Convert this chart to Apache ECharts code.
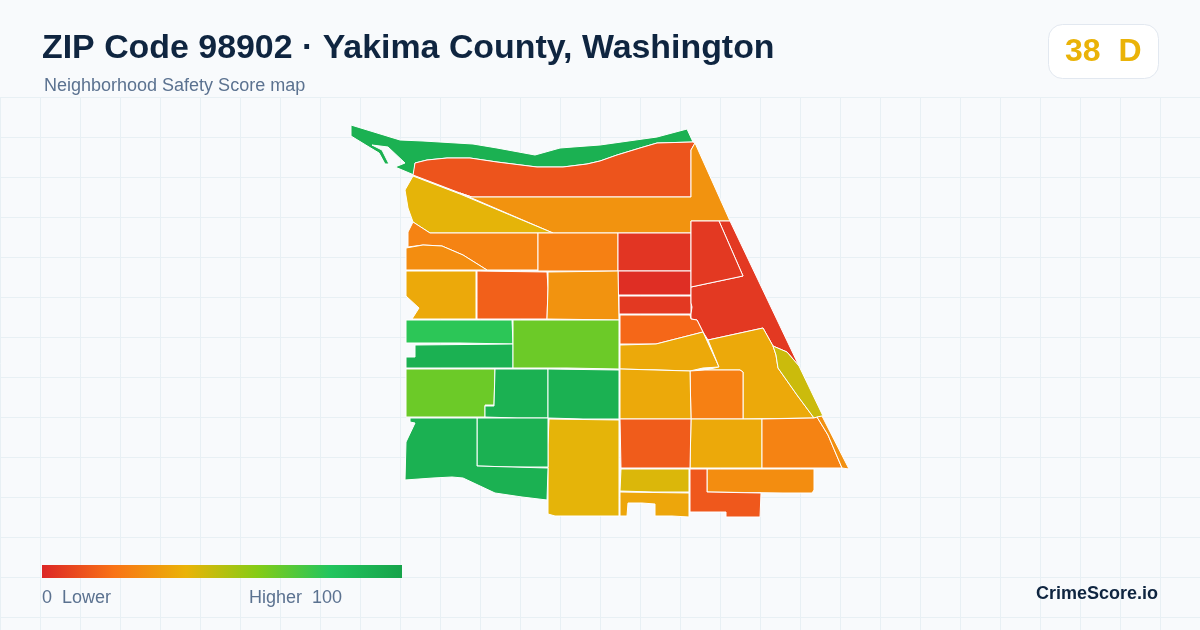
<!DOCTYPE html>
<html>
<head>
<meta charset="utf-8">
<title>ZIP Code 98902</title>
<style>
html,body{margin:0;padding:0;background:#f8fafc;}
#chart{width:1200px;height:630px;}
</style>
<script src="https://cdn.jsdelivr.net/npm/echarts@6/dist/echarts.min.js"></script>
</head>
<body>
<div id="chart"></div>
<script>
var regionNames = [
    'A01', 'A02', 'A03', 'A04', 'A05', 'A06', 'A07', 'A08', 'A09', 'A10',
    'A11', 'A12', 'A13', 'A14', 'A15', 'A16', 'A17', 'A18', 'A19', 'A20',
    'A21', 'A22', 'A23', 'A24', 'A25', 'A26', 'A27', 'A28', 'A29', 'A30',
    'A31', 'A32', 'A33', 'A34', 'A35', 'A36', 'A37', 'A38'
];
// scores
var regionScores = [
    92, 12, 30, 41, 25, 28, 24, 4, 2, 5,
    5, 5, 37, 15, 30, 17, 37, 37, 24, 46,
    78, 92, 65, 65, 92, 92, 37, 37, 14, 25,
    28, 13, 29, 41, 43, 36, 92, 92
];
// outlines in map units
var regionOutlines = [
    [[351,125],[400,140],[423,141],[473,144],[497,148],[535,155],[560,148],[573,147],[600,145],[657,137],[687,129],[693,142],[657,143],[640,148],[617,155],[600,161],[587,164],[563,167],[537,167],[497,162],[470,158],[447,158],[427,160],[415,163],[414,175],[395,167],[405,163],[388,147],[372,145],[382,150],[389,164],[385,164],[379,153],[369,147],[351,136]],
    [[415,163],[427,160],[447,158],[470,158],[497,162],[537,167],[563,167],[587,164],[600,161],[617,155],[640,148],[657,143],[693,142],[695,143],[691,150],[691,197],[472,197],[460,193],[413,175]],
    [[460,193],[472,197],[691,197],[691,150],[695,143],[730,221],[691,221],[691,233],[553,233]],
    [[413,176],[460,194],[553,233],[430,233],[413,222],[408,208],[405,190]],
    [[413,222],[430,233],[538,233],[538,270],[487,270],[463,255],[442,246],[423,245],[408,247],[408,232]],
    [[406,270],[406,248],[423,245],[442,246],[463,255],[487,270]],
    [[538,233],[618,233],[618,271],[538,271]],
    [[618,233],[691,233],[691,271],[618,271]],
    [[618,271],[691,271],[691,295],[618,295]],
    [[619,296],[691,296],[691,314],[619,314]],
    [[691,287],[743,276],[719,221],[730,221],[799,366],[787,352],[773,346],[763,328],[708,340],[703,332],[697,320],[691,319],[691,314],[692,307],[691,303]],
    [[691,221],[719,221],[743,276],[691,287]],
    [[406,271],[476,271],[476,319],[412,319],[419,308],[406,296]],
    [[477,271],[547,272],[548,288],[547,319],[477,319]],
    [[548,272],[618,271],[619,320],[547,319],[548,288]],
    [[620,315],[690,315],[691,319],[697,320],[703,332],[656,344],[620,344]],
    [[620,345],[656,344],[703,332],[719,367],[703,368],[690,371],[660,370],[620,369]],
    [[708,340],[763,328],[773,346],[776,355],[778,368],[797,395],[814,418],[743,419],[743,372],[740,370],[705,370],[719,367]],
    [[690,371],[705,370],[740,370],[743,372],[743,419],[691,419]],
    [[773,346],[787,352],[799,366],[823,416],[814,418],[797,395],[778,368],[776,355]],
    [[406,320],[512,320],[513,344],[460,343],[406,343]],
    [[415,345],[513,344],[513,368],[406,368],[406,357],[415,357]],
    [[513,320],[619,320],[619,369],[567,368],[513,368]],
    [[406,369],[495,369],[494,405],[485,405],[485,417],[406,417]],
    [[495,369],[548,369],[548,418],[517,418],[485,417],[485,406],[494,406]],
    [[548,369],[619,370],[619,419],[583,419],[548,418]],
    [[620,369],[690,371],[691,419],[620,419]],
    [[691,419],[743,419],[762,419],[762,468],[690,468]],
    [[620,419],[691,419],[690,468],[621,468]],
    [[762,419],[814,418],[817,417],[828,435],[842,468],[762,468]],
    [[707,469],[814,469],[814,490],[812,493],[783,493],[707,492]],
    [[690,469],[707,469],[707,492],[761,493],[760,517],[726,517],[726,512],[690,512]],
    [[817,417],[822,416],[849,469],[842,468],[828,435]],
    [[549,419],[619,420],[619,516],[555,516],[548,514],[548,502],[548,445]],
    [[621,469],[689,469],[689,492],[653,492],[620,491]],
    [[620,492],[689,493],[689,517],[672,516],[655,516],[655,504],[642,503],[628,503],[627,516],[620,516]],
    [[477,418],[548,418],[548,467],[512,467],[477,466]],
    [[410,418],[477,418],[477,466],[512,467],[548,468],[547,500],[522,497],[495,493],[463,478],[452,477],[433,478],[405,480],[406,442],[415,423],[410,422]]
];
var scaleColors = ['#dc2626', '#f97316', '#eab308', '#84cc16', '#22c55e', '#16a34a'];
var overallScore = 38;
var overallGrade = 'D';

var chart = echarts.init(document.getElementById('chart'));

echarts.registerMap('zip98902', {
    type: 'FeatureCollection',
    features: regionOutlines.map(function (ring, i) {
        return {
            type: 'Feature',
            properties: { name: regionNames[i] },
            geometry: { type: 'Polygon', coordinates: [ring] }
        };
    })
});

var option = {
    animation: false,
    backgroundColor: '#f8fafc',
    title: [
        {
            text: 'ZIP Code 98902 · Yakima County, Washington',
            left: 42, top: 32, padding: 0,
            textStyle: { fontFamily: 'Liberation Sans', fontWeight: 'bold', fontSize: 33.9, color: '#0f2540' }
        },
        {
            text: 'Neighborhood Safety Score map',
            left: 44, top: 77, padding: 0,
            textStyle: { fontFamily: 'Liberation Sans', fontWeight: 'normal', fontSize: 18, color: '#5b7290' }
        }
    ],
    grid: { left: 0, right: 0, top: 97, bottom: 0 },
    xAxis: {
        type: 'value', min: 0, max: 1200, interval: 40,
        axisLine: { show: false }, axisTick: { show: false }, axisLabel: { show: false },
        splitLine: { show: true, lineStyle: { color: '#e8f0f4', width: 1 } }
    },
    yAxis: {
        type: 'value', inverse: true, min: 0, max: 533, interval: 40,
        axisLine: { show: false }, axisTick: { show: false }, axisLabel: { show: false },
        splitLine: { show: true, lineStyle: { color: '#e8f0f4', width: 1 } }
    },
    visualMap: {
        type: 'continuous',
        show: false,
        min: 0, max: 100,
        seriesIndex: 0,
        inRange: { color: scaleColors }
    },
    series: [
        {
            type: 'map',
            map: 'zip98902',
            projection: {
                project: function (p) { return p; },
                unproject: function (p) { return p; }
            },
            left: 351, top: 125, width: 498, height: 392,
            roam: false, silent: true, selectedMode: false,
            label: { show: false },
            itemStyle: { borderColor: '#ffffff', borderWidth: 1 },
            data: regionNames.map(function (n, i) { return { name: n, value: regionScores[i] }; })
        }
    ],
    graphic: [
        {
            // colour scale legend, same stops as the visualMap
            type: 'rect', silent: true, z: 100,
            shape: { x: 42, y: 565, width: 360, height: 13 },
            style: {
                fill: new echarts.graphic.LinearGradient(0, 0, 1, 0, scaleColors.map(function (c, i) {
                    return { offset: i / (scaleColors.length - 1), color: c };
                }))
            }
        },
        {
            type: 'rect', silent: true, z: 100,
            shape: { x: 1048.5, y: 24.5, width: 110, height: 54, r: 14 },
            style: { fill: '#ffffff', stroke: '#e2e8f0', lineWidth: 1 }
        },
        {
            type: 'text', silent: true, z: 101, x: 1065, y: 36,
            style: { text: overallScore + '  ' + overallGrade, fill: '#eab308', font: 'bold 32px "Liberation Sans"' }
        },
        {
            type: 'text', silent: true, z: 101, x: 42, y: 589,
            style: { text: '0  Lower', fill: '#5b7290', font: '18px "Liberation Sans"' }
        },
        {
            type: 'text', silent: true, z: 101, x: 249, y: 589,
            style: { text: 'Higher  100', fill: '#5b7290', font: '18px "Liberation Sans"' }
        },
        {
            type: 'text', silent: true, z: 101, x: 1036, y: 585,
            style: { text: 'CrimeScore.io', fill: '#0f2540', font: 'bold 18px "Liberation Sans"' }
        }
    ]
};
chart.setOption(option);
</script>
</body>
</html>
